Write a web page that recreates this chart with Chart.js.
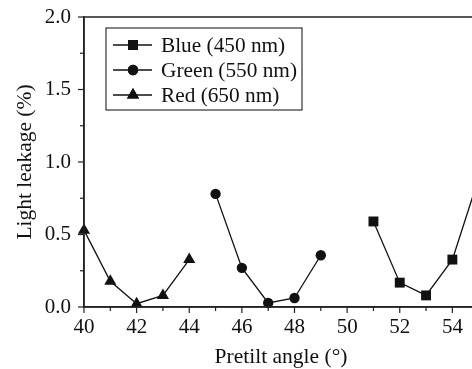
<!DOCTYPE html>
<html>
<head>
<meta charset="utf-8">
<script src="https://cdn.jsdelivr.net/npm/chart.js@4.4.1/dist/chart.umd.min.js"></script>
<style>
html,body{margin:0;padding:0;background:#fff;overflow:hidden;}
#wrap{width:472px;height:369px;overflow:hidden;position:relative;}
canvas{display:block;}
</style>
</head>
<body>
<div id="wrap"><canvas id="c" width="525" height="369"></canvas></div>
<script>
// ---- data ----
const redAngles   = [40, 41, 42, 43, 44];
const redValues   = [0.53, 0.177, 0.023, 0.08, 0.327];
const greenAngles = [45, 46, 47, 48, 49];
const greenValues = [0.78, 0.27, 0.028, 0.062, 0.357];
const blueAngles  = [51, 52, 53, 54, 55];
const blueValues  = [0.59, 0.168, 0.08, 0.327, 0.89];
const seriesLabels = ['Blue (450 nm)', 'Green (550 nm)', 'Red (650 nm)'];
const xTitle = 'Pretilt angle (\u00b0)';
const yTitle = 'Light leakage (%)';

const SERIF = '"Liberation Serif", "Times New Roman", serif';
const toXY = (xs, ys) => xs.map((x, i) => ({x: x, y: ys[i]}));

const mk = (label, xs, ys, style, r) => ({
  label: label, data: toXY(xs, ys), borderColor: '#111', backgroundColor: '#111',
  borderWidth: 1.3, pointStyle: style, pointRadius: r, pointHoverRadius: r,
  pointBorderWidth: 0, showLine: true, clip: false, tension: 0
});

const datasets = [
  mk(seriesLabels[0], blueAngles, blueValues, 'rect', 7),
  mk(seriesLabels[1], greenAngles, greenValues, 'circle', 5.2),
  mk(seriesLabels[2], redAngles, redValues, 'triangle', 7)
];

const decor = {
  id: 'decor',
  afterDraw(chart) {
    const ctx = chart.ctx, a = chart.chartArea;
    const xs = chart.scales.x, ys = chart.scales.y;
    ctx.save();
    ctx.strokeStyle = '#222';
    ctx.lineWidth = 1.5;
    // frame
    ctx.strokeRect(a.left, a.top, a.right - a.left, a.bottom - a.top);
    // ticks (outward)
    ctx.lineWidth = 1.2;
    xs.ticks.forEach(t => {
      const px = xs.getPixelForValue(t.value);
      const len = (Math.round(t.value) % 2 === 0) ? 6 : 4;
      ctx.beginPath(); ctx.moveTo(px, a.bottom); ctx.lineTo(px, a.bottom + len); ctx.stroke();
    });
    ys.ticks.forEach(t => {
      const py = ys.getPixelForValue(t.value);
      const major = Math.abs(t.value * 2 - Math.round(t.value * 2)) < 1e-6;
      const len = major ? 6 : 4;
      ctx.beginPath(); ctx.moveTo(a.left, py); ctx.lineTo(a.left - len, py); ctx.stroke();
    });
    // axis titles
    ctx.fillStyle = '#111';
    ctx.font = '21.5px ' + SERIF;
    ctx.textAlign = 'center'; ctx.textBaseline = 'middle';
    ctx.fillText(xTitle, 281, 357);
    ctx.save();
    ctx.translate(25, (a.top + a.bottom) / 2);
    ctx.rotate(-Math.PI / 2);
    ctx.fillText(yTitle, 0, 0);
    ctx.restore();
    // legend
    const bx = 106, by = 28, bw = 196, bh = 82;
    ctx.fillStyle = '#fff';
    ctx.fillRect(bx, by, bw, bh);
    ctx.lineWidth = 1.2; ctx.strokeStyle = '#333';
    ctx.strokeRect(bx, by, bw, bh);
    ctx.font = '21.3px ' + SERIF;
    ctx.textAlign = 'left';
    chart.data.datasets.forEach((ds, i) => {
      const cy = by + 17 + i * 25;
      ctx.strokeStyle = '#111'; ctx.lineWidth = 1.3;
      ctx.beginPath(); ctx.moveTo(113, cy); ctx.lineTo(152, cy); ctx.stroke();
      ctx.fillStyle = '#111';
      Chart.helpers.drawPoint(ctx, {pointStyle: ds.pointStyle, radius: ds.pointRadius, rotation: 0, borderWidth: 0}, 133, cy);
      ctx.fill();
      ctx.fillText(ds.label, 161, cy + 1);
    });
    ctx.restore();
  }
};

new Chart(document.getElementById('c'), {
  type: 'scatter',
  data: { datasets: datasets },
  options: {
    responsive: false, animation: false,
    layout: { padding: { top: 17, right: 20, left: 0, bottom: 0 } },
    plugins: { legend: { display: false }, tooltip: { enabled: false } },
    scales: {
      x: {
        type: 'linear', min: 40, max: 56,
        afterFit(s) { s.height = 62; s.paddingLeft = 0; s.paddingRight = 0; },
        grid: { display: false, drawTicks: false },
        border: { display: true, color: '#222', width: 1.5 },
        ticks: {
          stepSize: 1, autoSkip: false, maxRotation: 0, padding: 8, color: '#111',
          font: { family: SERIF, size: 21 },
          callback: v => (Math.round(v) % 2 === 0 ? String(v) : '')
        }
      },
      y: {
        min: 0, max: 2,
        afterFit(s) { s.width = 84; s.paddingTop = 0; s.paddingBottom = 0; },
        grid: { display: false, drawTicks: false },
        border: { display: true, color: '#222', width: 1.5 },
        ticks: {
          stepSize: 0.25, autoSkip: false, padding: 13, color: '#111',
          font: { family: SERIF, size: 21 },
          callback: v => (Math.abs(v * 2 - Math.round(v * 2)) < 1e-6 ? v.toFixed(1) : '')
        }
      }
    }
  },
  plugins: [decor]
});
</script>
</body>
</html>
